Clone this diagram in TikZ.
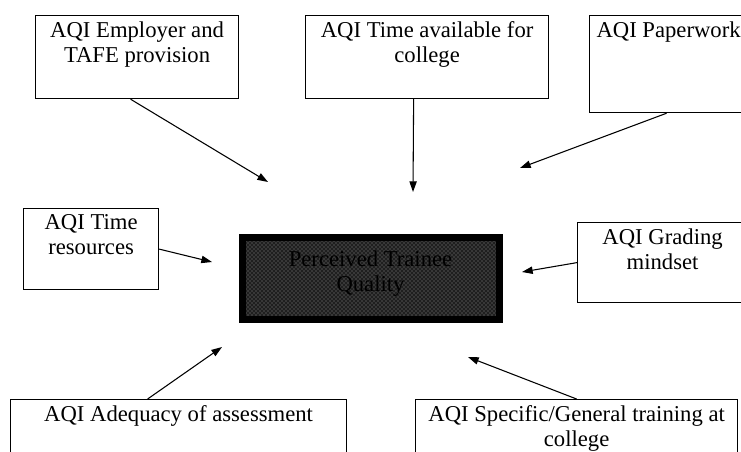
\documentclass[tikz,border=0pt]{standalone}
\usepackage{fontspec}
\setmainfont{Liberation Serif}
\usetikzlibrary{arrows.meta,patterns}
\tikzset{
  every node/.style={font=\fontsize{17}{18.75}\selectfont, text=black},
  aqibox/.style={draw=black, line width=0.9pt, fill=white, anchor=north west, inner sep=0pt},
  aqitext/.style={anchor=north, align=center, inner sep=0pt, yshift=-5pt},
  hub/.style={draw=black, line width=5.25pt, anchor=north west, inner sep=0pt,
              preaction={fill=black!88}, pattern=crosshatch dots, pattern color=black!45},
  link/.style={-{Triangle[length=8pt,width=5.5pt]}, draw=black, line width=0.8pt},
}
\begin{document}
\begin{tikzpicture}[x=0.75pt,y=-0.75pt]
  \useasboundingbox (0,0) rectangle (741,451);

  % Indicator boxes round the hub
  \node[aqibox, minimum width=152.25pt, minimum height=62.25pt] (emp) at (35,15) {};
  \node[aqibox, minimum width=182.25pt, minimum height=62.25pt] (time) at (305,15) {};
  \node[aqibox, minimum width=118.5pt, minimum height=72.75pt] (paper) at (589,15) {};
  \node[aqibox, minimum width=101.25pt, minimum height=60.75pt] (res) at (23,208) {};
  \node[aqibox, minimum width=127.5pt, minimum height=60pt] (grade) at (577,222) {};
  \node[aqibox, minimum width=252pt, minimum height=52.5pt] (adeq) at (10,399) {};
  \node[aqibox, minimum width=241.5pt, minimum height=52.5pt] (spec) at (415,399) {};

  % Box texts, set at the top of each box
  \node[aqitext] (empT) at (emp.north) {AQI Employer and\\TAFE provision};
  \node[aqitext] (timeT) at (time.north) {AQI Time available for\\college};
  \node[aqitext] (paperT) at (paper.north) {AQI Paperwork};
  \node[aqitext] (resT) at (res.north) {AQI Time\\resources};
  \node[aqitext] (gradeT) at (grade.north) {AQI Grading\\mindset};
  \node[aqitext] (adeqT) at (adeq.north) {AQI Adequacy of assessment};
  \node[aqitext] (specT) at (spec.north) {AQI Specific/General training at\\college};

  % Central outcome box
  \node[hub, minimum width=192.75pt, minimum height=61.5pt] (hub) at (238.5,233.5) {};
  \node[align=center, inner sep=0pt, yshift=3pt] (hubT) at (hub.center) {Perceived Trainee\\Quality};

  % Arrow tips, stopping short of the hub
  \coordinate (t1) at (268,182);
  \coordinate (t2) at (413,192);
  \coordinate (t3) at (520,168);
  \coordinate (t4) at (212,262);
  \coordinate (t5) at (522,272);
  \coordinate (t6) at (222,347);
  \coordinate (t7) at (468,357);

  \draw[link] ([xshift=-4.9pt]emp.south) -- (t1);
  \draw[link] ([xshift=-10.1pt]time.south) -- (t2);
  \draw[link] ([xshift=-1.5pt]paper.south) -- (t3);
  \draw[link] (res.east) -- (t4);
  \draw[link] (grade.west) -- (t5);
  \draw[link] ([xshift=-23.25pt]adeq.north) -- (t6);
  \draw[link] (spec.north) -- (t7);
\end{tikzpicture}
\end{document}
